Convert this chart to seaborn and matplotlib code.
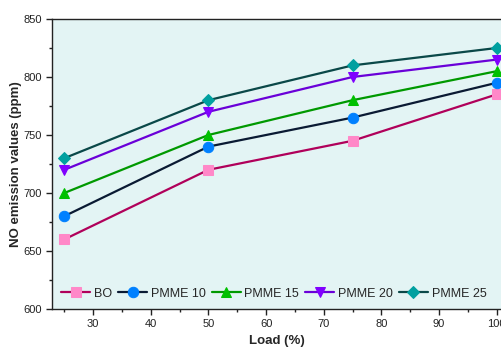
import pandas as pd
import matplotlib
matplotlib.use("Agg")
import matplotlib.pyplot as plt
import seaborn as sns
from matplotlib.ticker import MultipleLocator

load = [25, 50, 75, 100]
bo = [660, 720, 745, 785]
pmme10 = [680, 740, 765, 795]
pmme15 = [700, 750, 780, 805]
pmme20 = [720, 770, 800, 815]
pmme25 = [730, 780, 810, 825]
names = ['BO', 'PMME 10', 'PMME 15', 'PMME 20', 'PMME 25']

df = pd.DataFrame({'Load': load * 5,
                   'NO': bo + pmme10 + pmme15 + pmme20 + pmme25,
                   'Fuel': [n for n in names for _ in load]})

line_colors = ['#b0005a', '#0a1a33', '#009900', '#6a00d8', '#0a4848']
face_colors = ['#ff88c8', '#0080ff', '#00c000', '#8000ff', '#00a0a0']
markers = ['s', 'o', '^', 'v', 'D']
msizes = [7, 7.5, 7.5, 7.5, 6.5]

sns.set_style('ticks')
plt.rcParams['font.family'] = ['Liberation Sans', 'DejaVu Sans']

fig = plt.figure(figsize=(5.02, 3.49), dpi=100)
ax = fig.add_axes([0.1036, 0.1146, 0.8964, 0.831])
ax.set_facecolor('#e3f4f4')

for i, n in enumerate(names):
    sub = df[df['Fuel'] == n]
    sns.lineplot(data=sub, x='Load', y='NO', ax=ax, color=line_colors[i],
                 marker=markers[i], markersize=msizes[i], markerfacecolor=face_colors[i],
                 markeredgecolor=face_colors[i], linewidth=1.6, label=n)

ax.set_xlim(22.87, 100.92)
ax.set_ylim(600, 850)
ax.xaxis.set_major_locator(MultipleLocator(10))
ax.xaxis.set_minor_locator(MultipleLocator(5))
ax.yaxis.set_major_locator(MultipleLocator(50))
ax.yaxis.set_minor_locator(MultipleLocator(25))
ax.tick_params(which='major', direction='out', length=4, width=1, labelsize=8, colors='#222222')
ax.tick_params(which='minor', direction='out', length=2.5, width=1, colors='#222222')
for s in ['left', 'bottom', 'top']:
    ax.spines[s].set_color('#222222')
    ax.spines[s].set_linewidth(1)
ax.spines['right'].set_visible(False)

ax.set_xlabel('Load (%)', fontsize=9.5, fontweight='bold', labelpad=4)
ax.set_ylabel('NO emission values (ppm)', fontsize=9.5, fontweight='bold', labelpad=1)

ax.legend(loc='lower left', bbox_to_anchor=(0.0, 0.0), ncol=5, frameon=False,
          fontsize=9, handlelength=2.3, handletextpad=0.3, columnspacing=0.5,
          borderaxespad=0.35)

fig.savefig('out.png', dpi=100)
